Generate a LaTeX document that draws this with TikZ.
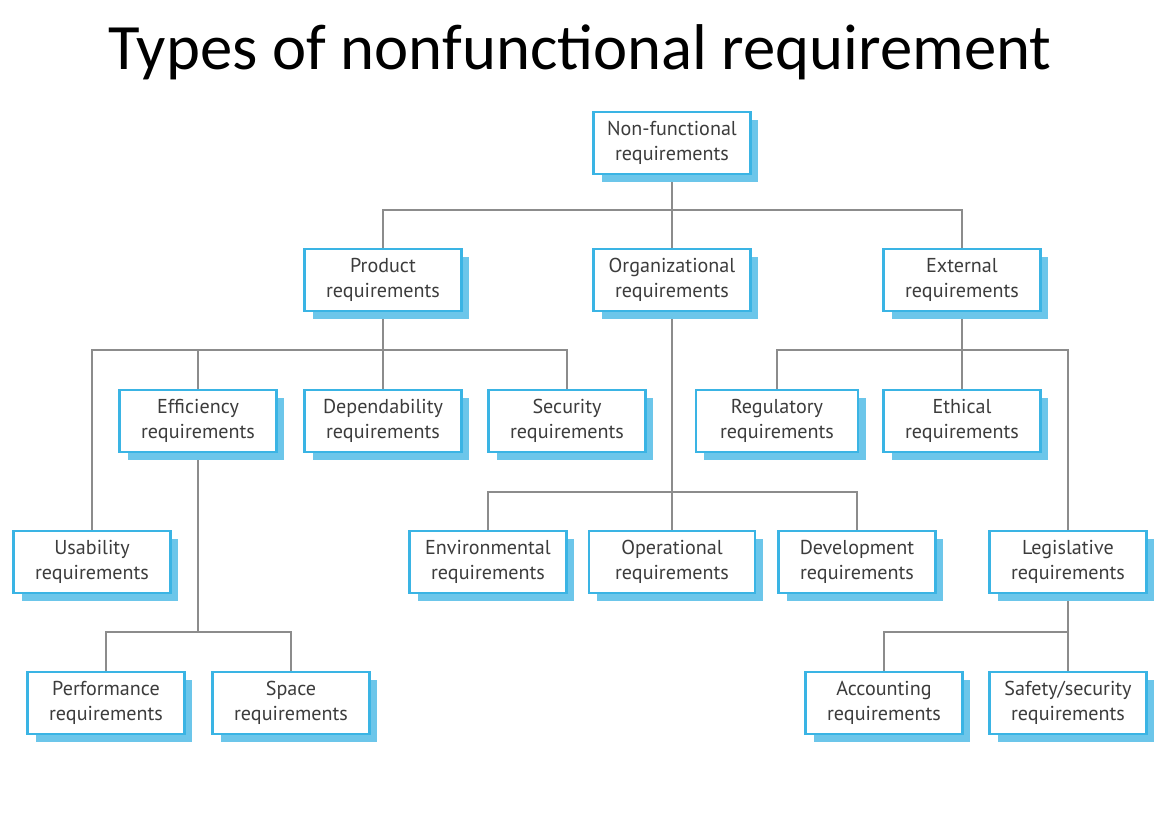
\documentclass[tikz,border=0pt]{standalone}
\usepackage{fontspec}
\setmainfont{PT Sans}
\newfontfamily\titlefont{Carlito}
\usepackage{xcolor}
\usepackage{tikz}
\usetikzlibrary{positioning, shadows, backgrounds}

\definecolor{boxblue}{HTML}{3AB4E4}
\definecolor{shadeblue}{HTML}{6CC6EA}
\definecolor{linegray}{HTML}{8C8C8C}
\definecolor{textgray}{HTML}{3C3C3C}

\begin{document}
\begin{tikzpicture}[
    x=0.025cm, y=-0.025cm,
    req/.style={draw=boxblue, fill=white, line width=1.8pt, rectangle,
        minimum width=3.92cm, minimum height=1.55cm, align=center,
        text=textgray, font=\fontsize{14.3}{17.5}\selectfont,
        drop shadow={shadow xshift=0.2cm, shadow yshift=-0.2cm,
            fill=shadeblue, opacity=1}},
    link/.style={draw=linegray, line width=1.4pt}
]
\useasboundingbox (0,0) rectangle (1160,814);

% Title
\node[font=\titlefont\fontsize{46}{50}\selectfont] (title) at (580,52) {Types of nonfunctional requirement};

% Top level
\node[req] (nfr) at (672,143) {Non-functional\\requirements};
\node[req] (prod) at (383,280) {Product\\requirements};
\node[req] (org) at (672,280) {Organizational\\requirements};
\node[req] (ext) at (962,280) {External\\requirements};

% Second level
\node[req] (eff) at (198,421) {Efficiency\\requirements};
\node[req] (dep) at (383,421) {Dependability\\requirements};
\node[req] (sec) at (567,421) {Security\\requirements};
\node[req, minimum width=4.05cm] (reg) at (777,421) {Regulatory\\requirements};
\node[req] (eth) at (962,421) {Ethical\\requirements};

% Third level
\node[req] (usab) at (92,562) {Usability\\requirements};
\node[req] (env) at (488,562) {Environmental\\requirements};
\node[req, minimum width=4.15cm] (oper) at (672,562) {Operational\\requirements};
\node[req] (dev) at (857,562) {Development\\requirements};
\node[req] (legis) at (1068,562) {Legislative\\requirements};

% Bottom level
\node[req] (perf) at (106,703) {Performance\\requirements};
\node[req] (space) at (291,703) {Space\\requirements};
\node[req] (acct) at (884,703) {Accounting\\requirements};
\node[req] (safe) at (1068,703) {Safety/security\\requirements};

% Junctions
\coordinate (nj) at (672,210);
\coordinate (pj) at (383,350);
\coordinate (ej) at (962,350);
\coordinate (oj) at (672,492);
\coordinate (fj) at (198,632);
\coordinate (lj) at (1068,632);

% Links
\begin{scope}[on background layer]
\draw[link] (nfr) -- (org);
\draw[link] (nj) -| (prod);
\draw[link] (nj) -| (ext);
\draw[link] (prod) -- (dep);
\draw[link] (pj) -| (usab);
\draw[link] (pj) -| (eff);
\draw[link] (pj) -| (sec);
\draw[link] (ext) -- (eth);
\draw[link] (ej) -| (reg);
\draw[link] (ej) -| (legis);
\draw[link] (org) -- (oper);
\draw[link] (oj) -| (env);
\draw[link] (oj) -| (dev);
\draw[link] (eff) -- (fj);
\draw[link] (fj) -| (perf);
\draw[link] (fj) -| (space);
\draw[link] (legis) -- (safe);
\draw[link] (lj) -| (acct);
\end{scope}
\end{tikzpicture}
\end{document}
